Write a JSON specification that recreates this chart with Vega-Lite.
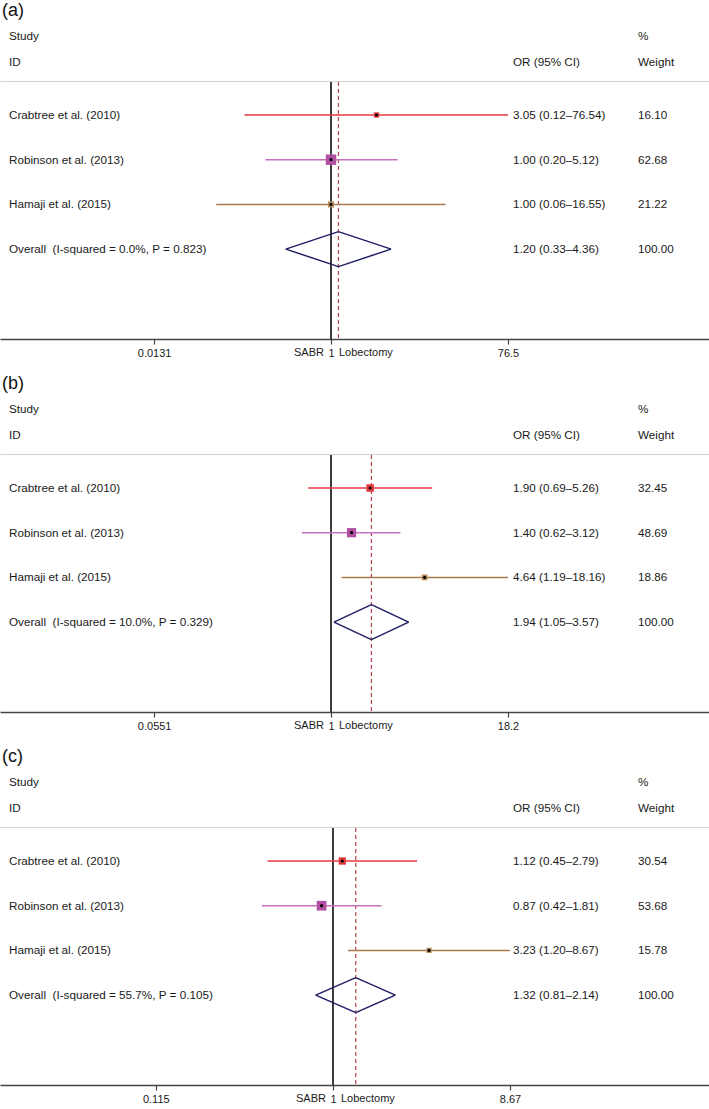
{
  "$schema": "https://vega.github.io/schema/vega-lite/v6.json",
  "background": "white",
  "padding": {"top": 2, "left": 0, "right": 0, "bottom": 0},
  "spacing": 17,
  "datasets": {
    "rows": [
      {"panel": "a", "kind": "study", "study": "Crabtree et al. (2010)", "label": "Crabtree et al. (2010)", "est": 3.05, "lo": 0.12, "hi": 76.54, "weight": 16.10, "ci": "3.05 (0.12–76.54)", "wt": "16.10"},
      {"panel": "a", "kind": "study", "study": "Robinson et al. (2013)", "label": "Robinson et al. (2013)", "est": 1.00, "lo": 0.20, "hi": 5.12, "weight": 62.68, "ci": "1.00 (0.20–5.12)", "wt": "62.68"},
      {"panel": "a", "kind": "study", "study": "Hamaji et al. (2015)", "label": "Hamaji et al. (2015)", "est": 1.00, "lo": 0.06, "hi": 16.55, "weight": 21.22, "ci": "1.00 (0.06–16.55)", "wt": "21.22"},
      {"panel": "a", "kind": "overall", "study": "Overall", "label": "Overall\u00a0 (I-squared = 0.0%, P = 0.823)", "est": 1.20, "lo": 0.33, "hi": 4.36, "weight": 100, "ci": "1.20 (0.33–4.36)", "wt": "100.00"},
      {"panel": "b", "kind": "study", "study": "Crabtree et al. (2010)", "label": "Crabtree et al. (2010)", "est": 1.90, "lo": 0.69, "hi": 5.26, "weight": 32.45, "ci": "1.90 (0.69–5.26)", "wt": "32.45"},
      {"panel": "b", "kind": "study", "study": "Robinson et al. (2013)", "label": "Robinson et al. (2013)", "est": 1.40, "lo": 0.62, "hi": 3.12, "weight": 48.69, "ci": "1.40 (0.62–3.12)", "wt": "48.69"},
      {"panel": "b", "kind": "study", "study": "Hamaji et al. (2015)", "label": "Hamaji et al. (2015)", "est": 4.64, "lo": 1.19, "hi": 18.16, "weight": 18.86, "ci": "4.64 (1.19–18.16)", "wt": "18.86"},
      {"panel": "b", "kind": "overall", "study": "Overall", "label": "Overall\u00a0 (I-squared = 10.0%, P = 0.329)", "est": 1.94, "lo": 1.05, "hi": 3.57, "weight": 100, "ci": "1.94 (1.05–3.57)", "wt": "100.00"},
      {"panel": "c", "kind": "study", "study": "Crabtree et al. (2010)", "label": "Crabtree et al. (2010)", "est": 1.12, "lo": 0.45, "hi": 2.79, "weight": 30.54, "ci": "1.12 (0.45–2.79)", "wt": "30.54"},
      {"panel": "c", "kind": "study", "study": "Robinson et al. (2013)", "label": "Robinson et al. (2013)", "est": 0.87, "lo": 0.42, "hi": 1.81, "weight": 53.68, "ci": "0.87 (0.42–1.81)", "wt": "53.68"},
      {"panel": "c", "kind": "study", "study": "Hamaji et al. (2015)", "label": "Hamaji et al. (2015)", "est": 3.23, "lo": 1.20, "hi": 8.67, "weight": 15.78, "ci": "3.23 (1.20–8.67)", "wt": "15.78"},
      {"panel": "c", "kind": "overall", "study": "Overall", "label": "Overall\u00a0 (I-squared = 55.7%, P = 0.105)", "est": 1.32, "lo": 0.81, "hi": 2.14, "weight": 100, "ci": "1.32 (0.81–2.14)", "wt": "100.00"}
    ],
    "headers": [
      {"line": "1", "col": "study", "text": "Study"},
      {"line": "2", "col": "study", "text": "ID"},
      {"line": "2", "col": "or", "text": "OR (95% CI)"},
      {"line": "1", "col": "wt", "text": "%"},
      {"line": "2", "col": "wt", "text": "Weight"}
    ]
  },
  "vconcat": [
    {
      "spacing": 0,
      "vconcat": [
        {
          "width": 709, "height": 58,
          "title": {"text": "(a)", "dx": 2},
          "data": {"name": "headers"},
          "layer": [
            {"transform": [{"filter": "datum.col === 'study'"}],
             "mark": {"type": "text", "align": "left", "baseline": "middle"},
             "encoding": {
               "x": {"datum": 0.0003743, "type": "quantitative", "scale": {"type": "log", "domain": [0.00030024, 10537], "nice": false}, "axis": {"labels": false, "ticks": false, "grid": false, "title": null, "domainColor": "#d0d0d0", "domainWidth": 1}},
               "y": {"field": "line", "type": "nominal", "scale": {"type": "point", "domain": ["1", "2"], "padding": 0.615, "align": 0.4}, "axis": null},
               "text": {"field": "text"}}},
            {"transform": [{"filter": "datum.col === 'or'"}],
             "mark": {"type": "text", "align": "left", "baseline": "middle"},
             "encoding": {"x": {"datum": 86.47, "type": "quantitative"}, "y": {"field": "line", "type": "nominal"}, "text": {"field": "text"}}},
            {"transform": [{"filter": "datum.col === 'wt'"}],
             "mark": {"type": "text", "align": "left", "baseline": "middle"},
             "encoding": {"x": {"datum": 1849.9, "type": "quantitative"}, "y": {"field": "line", "type": "nominal"}, "text": {"field": "text"}}}
          ]
        },
        {
          "width": 709, "height": 257,
          "data": {"name": "rows"},
          "transform": [{"filter": "datum.panel === 'a'"}],
          "layer": [
            {"mark": {"type": "rule", "color": "#3a3a3a", "strokeWidth": 1.3},
             "encoding": {"x": {"datum": 1, "type": "quantitative", "scale": {"type": "log", "domain": [0.00030024, 10537], "nice": false},
               "axis": {"values": [0.0131, 1, 76.5], "format": "~g", "title": null, "grid": false, "domainColor": "#444444", "domainWidth": 1.3, "tickColor": "#444444", "tickSize": 5, "tickWidth": 1.2, "labelPadding": 3, "labelFlush": false, "labelOverlap": false}}}},
            {"transform": [{"filter": "datum.kind === 'overall'"}],
             "mark": {"type": "rule", "color": "#b3474f", "strokeDash": [4, 3], "strokeWidth": 1.2},
             "encoding": {"x": {"field": "est", "type": "quantitative"}}},
            {"transform": [{"filter": "datum.kind === 'study'"}],
             "mark": {"type": "rule", "strokeWidth": 1.5},
             "encoding": {
               "x": {"field": "lo", "type": "quantitative"}, "x2": {"field": "hi"},
               "y": {"field": "study", "type": "nominal", "scale": {"type": "point", "domain": ["Crabtree et al. (2010)", "Robinson et al. (2013)", "Hamaji et al. (2015)", "Overall", " "], "padding": 0.875, "align": 0.422}, "axis": null},
               "stroke": {"field": "study", "type": "nominal", "scale": {"domain": ["Crabtree et al. (2010)", "Robinson et al. (2013)", "Hamaji et al. (2015)"], "range": ["#e8393f", "#c871c0", "#a87a4e"]}, "legend": null}}},
            {"transform": [{"filter": "datum.kind === 'study'"}],
             "mark": {"type": "point", "shape": "square", "filled": true, "opacity": 1},
             "encoding": {
               "x": {"field": "est", "type": "quantitative"}, "y": {"field": "study", "type": "nominal"},
               "size": {"field": "weight", "type": "quantitative", "scale": {"domain": [0, 100], "range": [0, 175]}, "legend": null},
               "fill": {"field": "study", "type": "nominal", "scale": {"domain": ["Crabtree et al. (2010)", "Robinson et al. (2013)", "Hamaji et al. (2015)"], "range": ["#e23a3a", "#b14fa3", "#b98a5a"]}, "legend": null}}},
            {"transform": [{"filter": "datum.kind === 'study'"}],
             "mark": {"type": "point", "shape": "circle", "filled": true, "color": "#000000", "size": 10, "opacity": 1},
             "encoding": {"x": {"field": "est", "type": "quantitative"}, "y": {"field": "study", "type": "nominal"}}},
            {"transform": [{"filter": "datum.kind === 'overall'"}],
             "mark": {"type": "rule", "color": "#1f1f66", "strokeWidth": 1.5, "y2Offset": -17.5},
             "encoding": {"x": {"field": "lo", "type": "quantitative"}, "x2": {"field": "est"}, "y": {"field": "study", "type": "nominal"}, "y2": {"field": "study"}}},
            {"transform": [{"filter": "datum.kind === 'overall'"}],
             "mark": {"type": "rule", "color": "#1f1f66", "strokeWidth": 1.5, "yOffset": -17.5},
             "encoding": {"x": {"field": "est", "type": "quantitative"}, "x2": {"field": "hi"}, "y": {"field": "study", "type": "nominal"}, "y2": {"field": "study"}}},
            {"transform": [{"filter": "datum.kind === 'overall'"}],
             "mark": {"type": "rule", "color": "#1f1f66", "strokeWidth": 1.5, "y2Offset": 17.5},
             "encoding": {"x": {"field": "lo", "type": "quantitative"}, "x2": {"field": "est"}, "y": {"field": "study", "type": "nominal"}, "y2": {"field": "study"}}},
            {"transform": [{"filter": "datum.kind === 'overall'"}],
             "mark": {"type": "rule", "color": "#1f1f66", "strokeWidth": 1.5, "yOffset": 17.5},
             "encoding": {"x": {"field": "est", "type": "quantitative"}, "x2": {"field": "hi"}, "y": {"field": "study", "type": "nominal"}, "y2": {"field": "study"}}},
            {"mark": {"type": "text", "align": "left", "baseline": "middle"},
             "encoding": {"x": {"datum": 0.0003743, "type": "quantitative"}, "y": {"field": "study", "type": "nominal"}, "text": {"field": "label"}}},
            {"mark": {"type": "text", "align": "left", "baseline": "middle"},
             "encoding": {"x": {"datum": 86.47, "type": "quantitative"}, "y": {"field": "study", "type": "nominal"}, "text": {"field": "ci"}}},
            {"mark": {"type": "text", "align": "left", "baseline": "middle"},
             "encoding": {"x": {"datum": 1849.9, "type": "quantitative"}, "y": {"field": "study", "type": "nominal"}, "text": {"field": "wt"}}},
            {"transform": [{"filter": "datum.kind === 'overall'"}],
             "mark": {"type": "text", "align": "right", "baseline": "top", "y": "height", "dy": 8, "dx": -7, "fontSize": 11},
             "encoding": {"x": {"datum": 1, "type": "quantitative"}, "text": {"value": "SABR"}}},
            {"transform": [{"filter": "datum.kind === 'overall'"}],
             "mark": {"type": "text", "align": "left", "baseline": "top", "y": "height", "dy": 8, "dx": 8, "fontSize": 11},
             "encoding": {"x": {"datum": 1, "type": "quantitative"}, "text": {"value": "Lobectomy"}}}
          ]
        }
      ]
    },
    {
      "spacing": 0,
      "vconcat": [
        {
          "width": 709, "height": 58,
          "title": {"text": "(b)", "dx": 2},
          "data": {"name": "headers"},
          "layer": [
            {"transform": [{"filter": "datum.col === 'study'"}],
             "mark": {"type": "text", "align": "left", "baseline": "middle"},
             "encoding": {
               "x": {"datum": 0.0051013, "type": "quantitative", "scale": {"type": "log", "domain": [0.004402, 490.9], "nice": false}, "axis": {"labels": false, "ticks": false, "grid": false, "title": null, "domainColor": "#d0d0d0", "domainWidth": 1}},
               "y": {"field": "line", "type": "nominal", "scale": {"type": "point", "domain": ["1", "2"], "padding": 0.615, "align": 0.4}, "axis": null},
               "text": {"field": "text"}}},
            {"transform": [{"filter": "datum.col === 'or'"}],
             "mark": {"type": "text", "align": "left", "baseline": "middle"},
             "encoding": {"x": {"datum": 19.757, "type": "quantitative"}, "y": {"field": "line", "type": "nominal"}, "text": {"field": "text"}}},
            {"transform": [{"filter": "datum.col === 'wt'"}],
             "mark": {"type": "text", "align": "left", "baseline": "middle"},
             "encoding": {"x": {"datum": 153.3, "type": "quantitative"}, "y": {"field": "line", "type": "nominal"}, "text": {"field": "text"}}}
          ]
        },
        {
          "width": 709, "height": 257,
          "data": {"name": "rows"},
          "transform": [{"filter": "datum.panel === 'b'"}],
          "layer": [
            {"mark": {"type": "rule", "color": "#3a3a3a", "strokeWidth": 1.3},
             "encoding": {"x": {"datum": 1, "type": "quantitative", "scale": {"type": "log", "domain": [0.004402, 490.9], "nice": false},
               "axis": {"values": [0.0551, 1, 18.2], "format": "~g", "title": null, "grid": false, "domainColor": "#444444", "domainWidth": 1.3, "tickColor": "#444444", "tickSize": 5, "tickWidth": 1.2, "labelPadding": 3, "labelFlush": false, "labelOverlap": false}}}},
            {"transform": [{"filter": "datum.kind === 'overall'"}],
             "mark": {"type": "rule", "color": "#b3474f", "strokeDash": [4, 3], "strokeWidth": 1.2},
             "encoding": {"x": {"field": "est", "type": "quantitative"}}},
            {"transform": [{"filter": "datum.kind === 'study'"}],
             "mark": {"type": "rule", "strokeWidth": 1.5},
             "encoding": {
               "x": {"field": "lo", "type": "quantitative"}, "x2": {"field": "hi"},
               "y": {"field": "study", "type": "nominal", "scale": {"type": "point", "domain": ["Crabtree et al. (2010)", "Robinson et al. (2013)", "Hamaji et al. (2015)", "Overall", " "], "padding": 0.875, "align": 0.422}, "axis": null},
               "stroke": {"field": "study", "type": "nominal", "scale": {"domain": ["Crabtree et al. (2010)", "Robinson et al. (2013)", "Hamaji et al. (2015)"], "range": ["#e8393f", "#c871c0", "#a87a4e"]}, "legend": null}}},
            {"transform": [{"filter": "datum.kind === 'study'"}],
             "mark": {"type": "point", "shape": "square", "filled": true, "opacity": 1},
             "encoding": {
               "x": {"field": "est", "type": "quantitative"}, "y": {"field": "study", "type": "nominal"},
               "size": {"field": "weight", "type": "quantitative", "scale": {"domain": [0, 100], "range": [0, 175]}, "legend": null},
               "fill": {"field": "study", "type": "nominal", "scale": {"domain": ["Crabtree et al. (2010)", "Robinson et al. (2013)", "Hamaji et al. (2015)"], "range": ["#e23a3a", "#b14fa3", "#b98a5a"]}, "legend": null}}},
            {"transform": [{"filter": "datum.kind === 'study'"}],
             "mark": {"type": "point", "shape": "circle", "filled": true, "color": "#000000", "size": 10, "opacity": 1},
             "encoding": {"x": {"field": "est", "type": "quantitative"}, "y": {"field": "study", "type": "nominal"}}},
            {"transform": [{"filter": "datum.kind === 'overall'"}],
             "mark": {"type": "rule", "color": "#1f1f66", "strokeWidth": 1.5, "y2Offset": -17.5},
             "encoding": {"x": {"field": "lo", "type": "quantitative"}, "x2": {"field": "est"}, "y": {"field": "study", "type": "nominal"}, "y2": {"field": "study"}}},
            {"transform": [{"filter": "datum.kind === 'overall'"}],
             "mark": {"type": "rule", "color": "#1f1f66", "strokeWidth": 1.5, "yOffset": -17.5},
             "encoding": {"x": {"field": "est", "type": "quantitative"}, "x2": {"field": "hi"}, "y": {"field": "study", "type": "nominal"}, "y2": {"field": "study"}}},
            {"transform": [{"filter": "datum.kind === 'overall'"}],
             "mark": {"type": "rule", "color": "#1f1f66", "strokeWidth": 1.5, "y2Offset": 17.5},
             "encoding": {"x": {"field": "lo", "type": "quantitative"}, "x2": {"field": "est"}, "y": {"field": "study", "type": "nominal"}, "y2": {"field": "study"}}},
            {"transform": [{"filter": "datum.kind === 'overall'"}],
             "mark": {"type": "rule", "color": "#1f1f66", "strokeWidth": 1.5, "yOffset": 17.5},
             "encoding": {"x": {"field": "est", "type": "quantitative"}, "x2": {"field": "hi"}, "y": {"field": "study", "type": "nominal"}, "y2": {"field": "study"}}},
            {"mark": {"type": "text", "align": "left", "baseline": "middle"},
             "encoding": {"x": {"datum": 0.0051013, "type": "quantitative"}, "y": {"field": "study", "type": "nominal"}, "text": {"field": "label"}}},
            {"mark": {"type": "text", "align": "left", "baseline": "middle"},
             "encoding": {"x": {"datum": 19.757, "type": "quantitative"}, "y": {"field": "study", "type": "nominal"}, "text": {"field": "ci"}}},
            {"mark": {"type": "text", "align": "left", "baseline": "middle"},
             "encoding": {"x": {"datum": 153.3, "type": "quantitative"}, "y": {"field": "study", "type": "nominal"}, "text": {"field": "wt"}}},
            {"transform": [{"filter": "datum.kind === 'overall'"}],
             "mark": {"type": "text", "align": "right", "baseline": "top", "y": "height", "dy": 8, "dx": -7, "fontSize": 11},
             "encoding": {"x": {"datum": 1, "type": "quantitative"}, "text": {"value": "SABR"}}},
            {"transform": [{"filter": "datum.kind === 'overall'"}],
             "mark": {"type": "text", "align": "left", "baseline": "top", "y": "height", "dy": 8, "dx": 8, "fontSize": 11},
             "encoding": {"x": {"datum": 1, "type": "quantitative"}, "text": {"value": "Lobectomy"}}}
          ]
        }
      ]
    },
    {
      "spacing": 0,
      "vconcat": [
        {
          "width": 709, "height": 58,
          "title": {"text": "(c)", "dx": 2},
          "data": {"name": "headers"},
          "layer": [
            {"transform": [{"filter": "datum.col === 'study'"}],
             "mark": {"type": "text", "align": "left", "baseline": "middle"},
             "encoding": {
               "x": {"datum": 0.019179, "type": "quantitative", "scale": {"type": "log", "domain": [0.017182, 98.37], "nice": false}, "axis": {"labels": false, "ticks": false, "grid": false, "title": null, "domainColor": "#d0d0d0", "domainWidth": 1}},
               "y": {"field": "line", "type": "nominal", "scale": {"type": "point", "domain": ["1", "2"], "padding": 0.615, "align": 0.4}, "axis": null},
               "text": {"field": "text"}}},
            {"transform": [{"filter": "datum.col === 'or'"}],
             "mark": {"type": "text", "align": "left", "baseline": "middle"},
             "encoding": {"x": {"datum": 8.995, "type": "quantitative"}, "y": {"field": "line", "type": "nominal"}, "text": {"field": "text"}}},
            {"transform": [{"filter": "datum.col === 'wt'"}],
             "mark": {"type": "text", "align": "left", "baseline": "middle"},
             "encoding": {"x": {"datum": 41.355, "type": "quantitative"}, "y": {"field": "line", "type": "nominal"}, "text": {"field": "text"}}}
          ]
        },
        {
          "width": 709, "height": 257,
          "data": {"name": "rows"},
          "transform": [{"filter": "datum.panel === 'c'"}],
          "layer": [
            {"mark": {"type": "rule", "color": "#3a3a3a", "strokeWidth": 1.3},
             "encoding": {"x": {"datum": 1, "type": "quantitative", "scale": {"type": "log", "domain": [0.017182, 98.37], "nice": false},
               "axis": {"values": [0.115, 1, 8.67], "format": "~g", "title": null, "grid": false, "domainColor": "#444444", "domainWidth": 1.3, "tickColor": "#444444", "tickSize": 5, "tickWidth": 1.2, "labelPadding": 3, "labelFlush": false, "labelOverlap": false}}}},
            {"transform": [{"filter": "datum.kind === 'overall'"}],
             "mark": {"type": "rule", "color": "#b3474f", "strokeDash": [4, 3], "strokeWidth": 1.2},
             "encoding": {"x": {"field": "est", "type": "quantitative"}}},
            {"transform": [{"filter": "datum.kind === 'study'"}],
             "mark": {"type": "rule", "strokeWidth": 1.5},
             "encoding": {
               "x": {"field": "lo", "type": "quantitative"}, "x2": {"field": "hi"},
               "y": {"field": "study", "type": "nominal", "scale": {"type": "point", "domain": ["Crabtree et al. (2010)", "Robinson et al. (2013)", "Hamaji et al. (2015)", "Overall", " "], "padding": 0.875, "align": 0.422}, "axis": null},
               "stroke": {"field": "study", "type": "nominal", "scale": {"domain": ["Crabtree et al. (2010)", "Robinson et al. (2013)", "Hamaji et al. (2015)"], "range": ["#e8393f", "#c871c0", "#a87a4e"]}, "legend": null}}},
            {"transform": [{"filter": "datum.kind === 'study'"}],
             "mark": {"type": "point", "shape": "square", "filled": true, "opacity": 1},
             "encoding": {
               "x": {"field": "est", "type": "quantitative"}, "y": {"field": "study", "type": "nominal"},
               "size": {"field": "weight", "type": "quantitative", "scale": {"domain": [0, 100], "range": [0, 175]}, "legend": null},
               "fill": {"field": "study", "type": "nominal", "scale": {"domain": ["Crabtree et al. (2010)", "Robinson et al. (2013)", "Hamaji et al. (2015)"], "range": ["#e23a3a", "#b14fa3", "#b98a5a"]}, "legend": null}}},
            {"transform": [{"filter": "datum.kind === 'study'"}],
             "mark": {"type": "point", "shape": "circle", "filled": true, "color": "#000000", "size": 10, "opacity": 1},
             "encoding": {"x": {"field": "est", "type": "quantitative"}, "y": {"field": "study", "type": "nominal"}}},
            {"transform": [{"filter": "datum.kind === 'overall'"}],
             "mark": {"type": "rule", "color": "#1f1f66", "strokeWidth": 1.5, "y2Offset": -17.5},
             "encoding": {"x": {"field": "lo", "type": "quantitative"}, "x2": {"field": "est"}, "y": {"field": "study", "type": "nominal"}, "y2": {"field": "study"}}},
            {"transform": [{"filter": "datum.kind === 'overall'"}],
             "mark": {"type": "rule", "color": "#1f1f66", "strokeWidth": 1.5, "yOffset": -17.5},
             "encoding": {"x": {"field": "est", "type": "quantitative"}, "x2": {"field": "hi"}, "y": {"field": "study", "type": "nominal"}, "y2": {"field": "study"}}},
            {"transform": [{"filter": "datum.kind === 'overall'"}],
             "mark": {"type": "rule", "color": "#1f1f66", "strokeWidth": 1.5, "y2Offset": 17.5},
             "encoding": {"x": {"field": "lo", "type": "quantitative"}, "x2": {"field": "est"}, "y": {"field": "study", "type": "nominal"}, "y2": {"field": "study"}}},
            {"transform": [{"filter": "datum.kind === 'overall'"}],
             "mark": {"type": "rule", "color": "#1f1f66", "strokeWidth": 1.5, "yOffset": 17.5},
             "encoding": {"x": {"field": "est", "type": "quantitative"}, "x2": {"field": "hi"}, "y": {"field": "study", "type": "nominal"}, "y2": {"field": "study"}}},
            {"mark": {"type": "text", "align": "left", "baseline": "middle"},
             "encoding": {"x": {"datum": 0.019179, "type": "quantitative"}, "y": {"field": "study", "type": "nominal"}, "text": {"field": "label"}}},
            {"mark": {"type": "text", "align": "left", "baseline": "middle"},
             "encoding": {"x": {"datum": 8.995, "type": "quantitative"}, "y": {"field": "study", "type": "nominal"}, "text": {"field": "ci"}}},
            {"mark": {"type": "text", "align": "left", "baseline": "middle"},
             "encoding": {"x": {"datum": 41.355, "type": "quantitative"}, "y": {"field": "study", "type": "nominal"}, "text": {"field": "wt"}}},
            {"transform": [{"filter": "datum.kind === 'overall'"}],
             "mark": {"type": "text", "align": "right", "baseline": "top", "y": "height", "dy": 8, "dx": -7, "fontSize": 11},
             "encoding": {"x": {"datum": 1, "type": "quantitative"}, "text": {"value": "SABR"}}},
            {"transform": [{"filter": "datum.kind === 'overall'"}],
             "mark": {"type": "text", "align": "left", "baseline": "top", "y": "height", "dy": 8, "dx": 8, "fontSize": 11},
             "encoding": {"x": {"datum": 1, "type": "quantitative"}, "text": {"value": "Lobectomy"}}}
          ]
        }
      ]
    }
  ],
  "config": {
    "view": {"stroke": null},
    "font": "Liberation Sans",
    "text": {"font": "Liberation Sans", "fontSize": 11.7, "color": "#1a1a1a"},
    "axis": {"labelFont": "Liberation Sans", "labelFontSize": 11, "labelColor": "#1a1a1a"},
    "title": {"font": "Liberation Sans", "fontSize": 18, "fontWeight": "normal", "anchor": "start", "color": "#111111", "offset": 3}
  }
}
